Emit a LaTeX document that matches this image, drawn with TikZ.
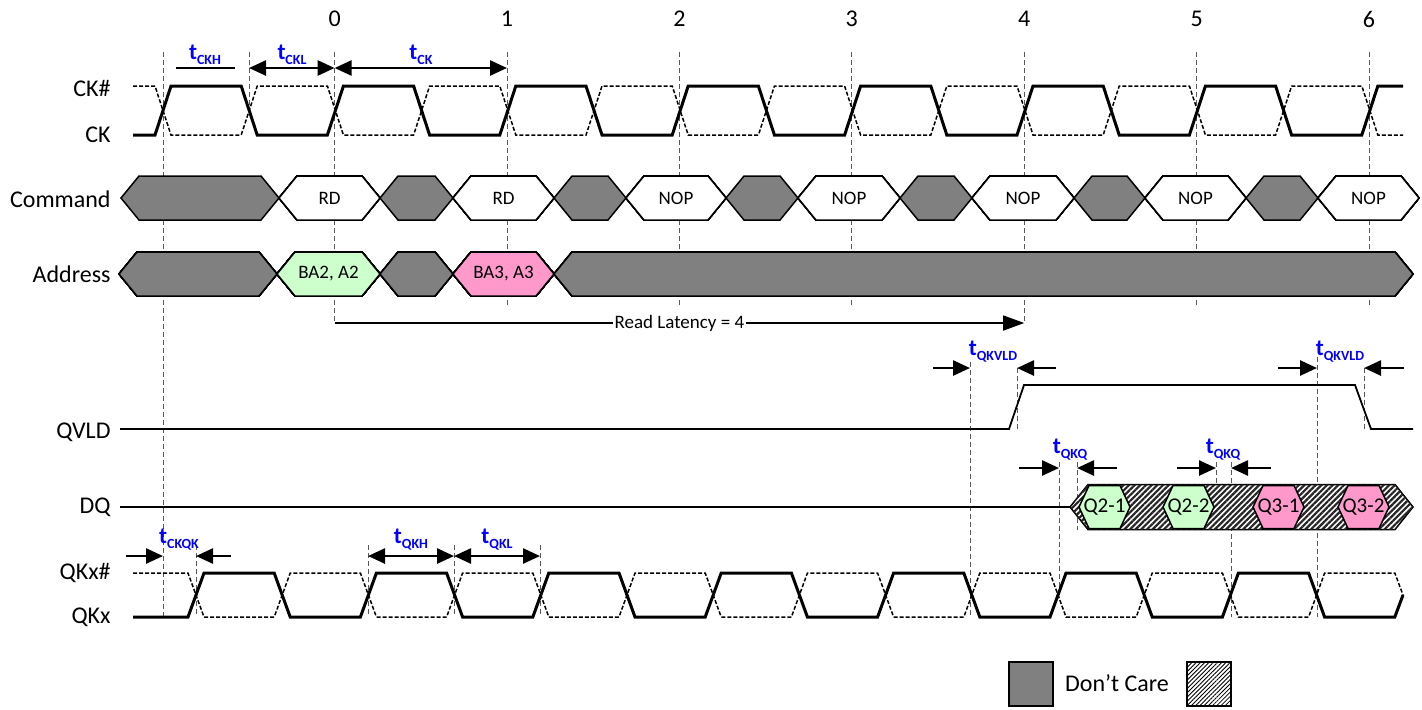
\documentclass[tikz,border=0pt]{standalone}
\usepackage{fontspec}
\setmainfont{Carlito}
\usetikzlibrary{arrows.meta,patterns.meta}
\definecolor{dcgray}{HTML}{808080}
\definecolor{rdgreen}{HTML}{CCFFCC}
\definecolor{rdpink}{HTML}{FF99CC}
\definecolor{tblue}{HTML}{0000FF}
\newcommand{\tlab}[1]{{\fontsize{11.5}{12}\selectfont\bfseries\color{tblue}t\raisebox{-0.45ex}{\fontsize{7}{8}\selectfont #1}}}
\newcommand{\hexbox}[6]{\draw[#1] (#2,#4) -- ({#2+#5},{#4-#6}) -- ({#3-#5},{#4-#6}) -- (#3,#4) -- ({#3-#5},{#4+#6}) -- ({#2+#5},{#4+#6}) -- cycle;}

\begin{document}
\begin{tikzpicture}[x=0.5pt,y=-0.5pt,
sig/.style={anchor=east,font=\fontsize{12}{14}\selectfont,inner sep=0pt},
num/.style={font=\fontsize{12}{14}\selectfont},
txt/.style={font=\fontsize{9.5}{11}\selectfont,inner sep=1pt},
clk/.style={line width=1.5pt},
clkn/.style={line width=0.75pt,dash pattern=on 2pt off 1pt},
guide/.style={line width=0.5pt,black!65,dash pattern=on 2.5pt off 1.5pt},
wire/.style={line width=0.9pt},
bus/.style={draw,line width=0.75pt},
dcare/.style={bus,fill=dcgray},
hatch/.style={bus,fill=white,postaction={pattern={Lines[angle=45,distance=2pt,line width=1.1pt]},pattern color=black!85}},
hatchbox/.style={bus,fill=white,postaction={pattern={Lines[angle=45,distance=1.5pt,line width=0.4pt]},pattern color=black}},
dim/.style={line width=1.3pt,{Triangle[length=8.5pt,width=7.5pt]}-{Triangle[length=8.5pt,width=7.5pt]}},
ptr/.style={line width=1.3pt,-{Triangle[length=8.5pt,width=7.5pt]}},
]
	\useasboundingbox (0,0) rectangle (1422,709);
	% guides
	\foreach \n/\e in {0/323,1/306,2/306,3/306,4/323,5/306,6/306}{
		\draw[guide] ({334.6+172.4*\n},52) -- ({334.6+172.4*\n},\e);
		\node[num] (c\n) at ({334.6+172.4*\n},19) {\n};
	}
	\foreach \x/\a/\b in {163/52/617,249/52/110,196/545/617,368/545/617,454/545/617,540/545/617,970/362/617,1017/368/430,1059/462/595,1077/462/530,1216/462/507,1231/462/617,1317/357/617,1364/368/430}
		\draw[guide] (\x,\a) -- (\x,\b);
	% signal names
	\node[sig] (lckn) at (111,88) {CK\#};
	\node[sig] (lck) at (111,135) {CK};
	\node[sig] (lcmd) at (111,199) {Command};
	\node[sig] (ladr) at (111,274) {Address};
	\node[sig] (lqvld) at (111,432) {QVLD};
	\node[sig] (ldq) at (111,507) {DQ};
	\node[sig] (lqkn) at (111,573) {QKx\#};
	\node[sig] (lqk) at (111,617) {QKx};
	% clocks
	\draw[clk] (133,135) \foreach \n in {0,...,6}{ -- ({155+172.4*\n},135) -- ({171+172.4*\n},86) -- ({241.2+172.4*\n},86) -- ({257.2+172.4*\n},135)} -- (1361.8,135) -- (1377.8,86) -- (1403,86);
	\draw[clkn] (133,86) \foreach \n in {0,...,6}{ -- ({155+172.4*\n},86) -- ({171+172.4*\n},135) -- ({241.2+172.4*\n},135) -- ({257.2+172.4*\n},86)} -- (1361.8,86) -- (1377.8,135) -- (1403,135);
	\draw[clk] (133,617) \foreach \n in {0,...,6}{ -- ({188+172.4*\n},617) -- ({204+172.4*\n},573) -- ({274.2+172.4*\n},573) -- ({290.2+172.4*\n},617)} -- (1394.8,617) -- (1403,595);
	\draw[clkn] (133,573) \foreach \n in {0,...,6}{ -- ({188+172.4*\n},573) -- ({204+172.4*\n},617) -- ({274.2+172.4*\n},617) -- ({290.2+172.4*\n},573)} -- (1394.8,573) -- (1403,595);
	% command
	\foreach \a/\b in {121/279,380/453,554/626,726/798,900/972,1074/1145,1246/1318}
		\hexbox{dcare}{\a}{\b}{198}{18}{22}
	\foreach \a/\b/\t/\nm in {279/380/RD/rd0,453/554/RD/rd1,626/726/NOP/nop2,798/900/NOP/nop3,972/1074/NOP/nop4,1145/1246/NOP/nop5,1318/1419/NOP/nop6}{
		\hexbox{bus,fill=white}{\a}{\b}{198}{18}{22}
		\node[txt] (\nm) at ({(\a+\b)/2},198) {\t};
	}
	% address
	\foreach \a/\b in {119/277,380/453,554/1413}
		\hexbox{dcare}{\a}{\b}{274}{18}{22}
	\hexbox{bus,fill=rdgreen}{277}{380}{274}{18}{22}
	\hexbox{bus,fill=rdpink}{453}{554}{274}{18}{22}
	\node[txt] (ba2) at (328.5,274) {BA2, A2};
	\node[txt] (ba3) at (503.5,274) {BA3, A3};
	% read latency
	\coordinate (rls) at (334.6,323);
	\coordinate (rle) at (1024.2,323);
	\draw[line width=0.75pt,-{Triangle[length=10.5pt,width=7.5pt]}] (rls) -- node[txt,fill=white] (rl) {Read Latency = 4} (rle);
	% qvld and dq
	\draw[wire] (120,429) -- (1009,429) -- (1024,385) -- (1355,385) -- (1371,429) -- (1413,429);
	\draw[wire] (120,507) -- (1070,507);
	\hexbox{hatch}{1070}{1413}{507}{18}{22.5}
	\foreach \a/\t/\c/\nm in {1079/Q2-1/rdgreen/q21,1163/Q2-2/rdgreen/q22,1253/Q3-1/rdpink/q31,1338/Q3-2/rdpink/q32}{
		\hexbox{bus,fill=\c}{\a}{\a+51}{507}{10}{21.5}
		\node[font=\fontsize{10.5}{12}\selectfont,inner sep=0pt] (\nm) at (\a+25.5,507) {\t};
	}
	% timing
	\draw[line width=1.3pt] (176,68) -- (235,68);
	\draw[dim] (249,68) -- (334.6,68);
	\draw[dim] (334.6,68) -- (507,68);
	\draw[ptr] (126,556) -- (163,556);
	\draw[ptr] (231,556) -- (196,556);
	\draw[dim] (368,556) -- (454,556);
	\draw[dim] (454,556) -- (540,556);
	\draw[ptr] (933,368) -- (970,368);
	\draw[ptr] (1056,368) -- (1017,368);
	\draw[ptr] (1278,368) -- (1317,368);
	\draw[ptr] (1404,368) -- (1364,368);
	\draw[ptr] (1019,468) -- (1059,468);
	\draw[ptr] (1117,468) -- (1077,468);
	\draw[ptr] (1177,468) -- (1216,468);
	\draw[ptr] (1271,468) -- (1231,468);
	\node (tckh) at (205,55) {\tlab{CKH}};
	\node (tckl) at (292,55) {\tlab{CKL}};
	\node (tck) at (421,55) {\tlab{CK}};
	\node (tckqk) at (179,540) {\tlab{CKQK}};
	\node (tqkh) at (411,540) {\tlab{QKH}};
	\node (tqkl) at (497,540) {\tlab{QKL}};
	\node (tqkvlda) at (993,352) {\tlab{QKVLD}};
	\node (tqkvldb) at (1340,352) {\tlab{QKVLD}};
	\node (tqkqa) at (1070,450) {\tlab{QKQ}};
	\node (tqkqb) at (1223,450) {\tlab{QKQ}};
	% legend
	\draw[dcare] (1009,662) rectangle (1053,706);
	\node[font=\fontsize{12}{14}\selectfont] (dcl) at (1117,683) {Don’t Care};
	\draw[hatchbox] (1187,662) rectangle (1231,706);
\end{tikzpicture}
\end{document}
